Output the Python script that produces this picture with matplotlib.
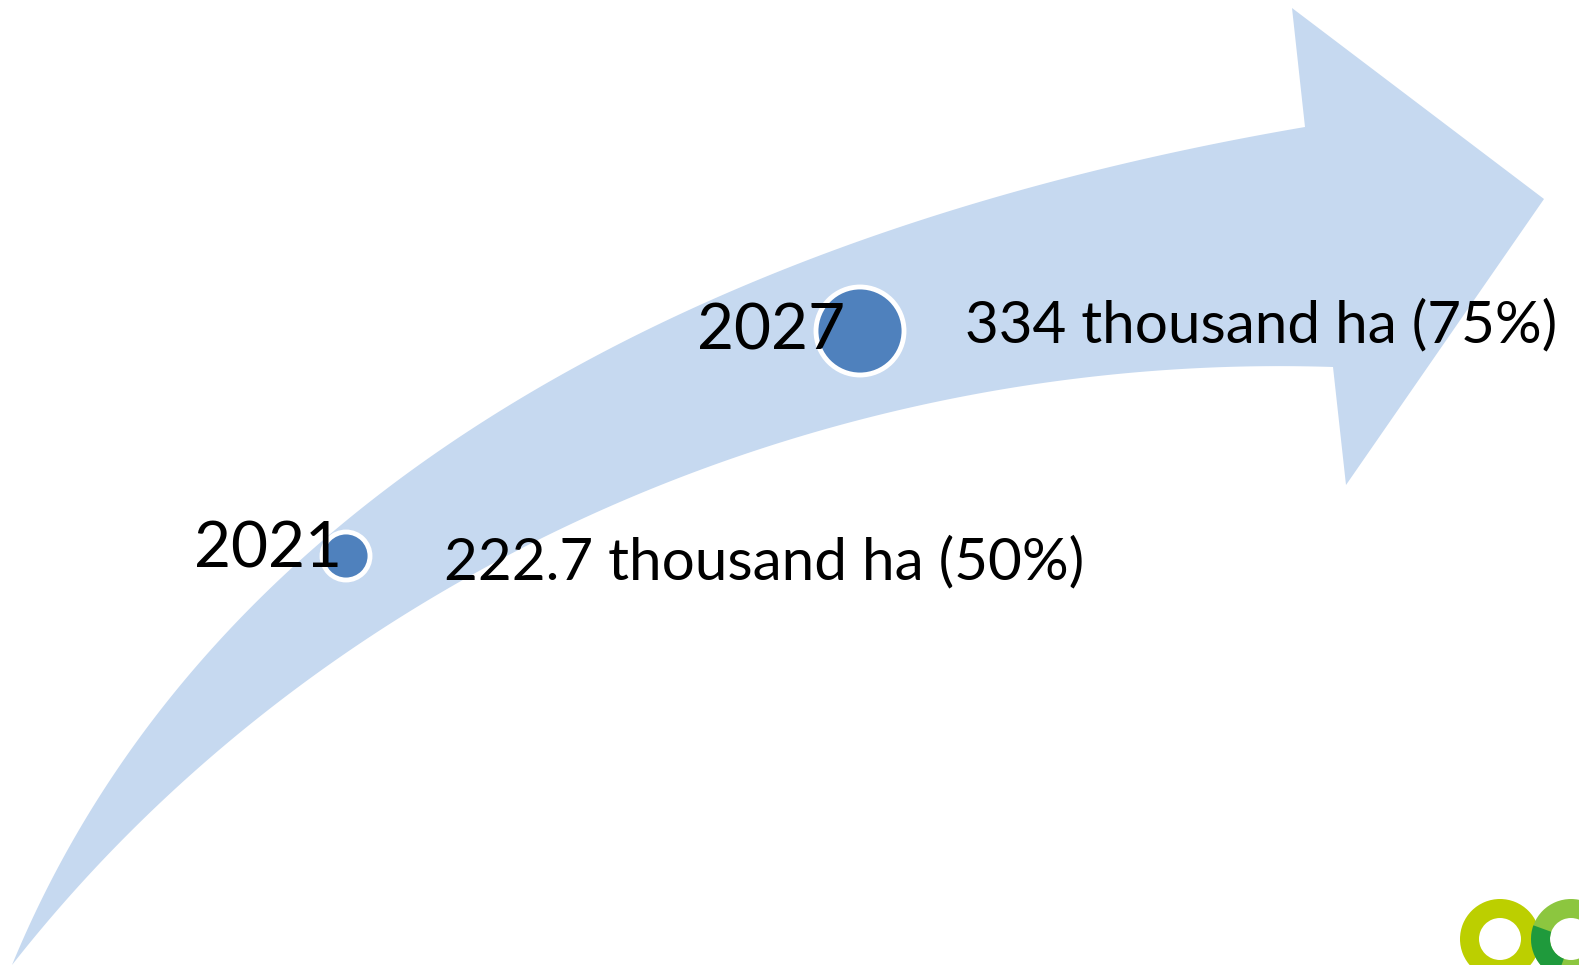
import numpy as np
import matplotlib.pyplot as plt
from matplotlib.patches import Polygon, Circle, Wedge

# canvas is laid out in pixel units of the 1579x965 picture
W, H = 1579, 965

# milestones
years = ['2021', '2027']
labels = ['222.7 thousand ha (50%)', '334 thousand ha (75%)']
marker_x = [346, 860]
marker_y = [556, 331]
marker_r = [24, 44]

# arrow outline
upper_x = [12, 77, 147, 257, 373, 517, 680, 793, 900, 1100, 1305]
upper_y = [965, 843, 733, 600, 500, 385, 318, 270, 232, 167, 127]
lower_x = [12, 67, 157, 293, 445, 567, 733, 923, 1033, 1133, 1333]
lower_y = [965, 893, 800, 700, 600, 515, 453, 400, 390, 381, 367]
head_x = [1292, 1544, 1346]
head_y = [8, 199, 485]

ARROW = '#c6d9f0'
DOT = '#4f81bd'
FONT = ['Lato', 'DejaVu Sans']


def edge(xs, ys, n=200):
    # least-squares cubic bezier through the sampled edge, ends pinned
    p = np.column_stack([xs, ys]).astype(float)
    d = np.r_[0, np.cumsum(np.hypot(*np.diff(p, axis=0).T))]
    t = d / d[-1]
    a = np.column_stack([3 * (1 - t) ** 2 * t, 3 * (1 - t) * t ** 2])
    rhs = p - np.outer((1 - t) ** 3, p[0]) - np.outer(t ** 3, p[-1])
    c = np.linalg.lstsq(a, rhs, rcond=None)[0]
    tt = np.linspace(0, 1, n)[:, None]
    return ((1 - tt) ** 3 * p[0] + 3 * (1 - tt) ** 2 * tt * c[0]
            + 3 * (1 - tt) * tt ** 2 * c[1] + tt ** 3 * p[-1])


fig = plt.figure(figsize=(W / 100, H / 100), dpi=100)
ax = fig.add_axes([0, 0, 1, 1])
ax.set_xlim(0, W)
ax.set_ylim(H, 0)
ax.axis('off')

top = edge(upper_x, upper_y)
bottom = edge(lower_x, lower_y)[::-1]
head = np.column_stack([head_x, head_y])
outline = np.vstack([top, head, bottom])
ax.add_patch(Polygon(outline, closed=True, facecolor=ARROW, edgecolor='none'))

# milestone dots
for x, y, r in zip(marker_x, marker_y, marker_r):
    ax.add_patch(Circle((x, y), r, facecolor=DOT, edgecolor='white', lw=3.5, zorder=3))

# year labels and values
ax.text(194, 568, years[0], fontsize=46, family=FONT, color='black', va='baseline', zorder=4)
ax.text(697, 350, years[1], fontsize=46, family=FONT, color='black', va='baseline', zorder=4)
ax.text(444, 579, labels[0], fontsize=42, family=FONT, color='black', va='baseline', zorder=4)
ax.text(965, 342, labels[1], fontsize=42, family=FONT, color='black', va='baseline', zorder=4)

# logo fragment in the corner
ax.add_patch(Wedge((1500, 939), 40, 0, 360, width=19, facecolor='#bccf00', edgecolor='none'))
ax.add_patch(Wedge((1571, 939), 40, 0, 360, width=19, facecolor='#8cc63f', edgecolor='none'))
ax.add_patch(Wedge((1571, 939), 40, 110, 200, width=19, facecolor='#1f9a3c', edgecolor='none'))

fig.savefig('out.png', dpi=100)
